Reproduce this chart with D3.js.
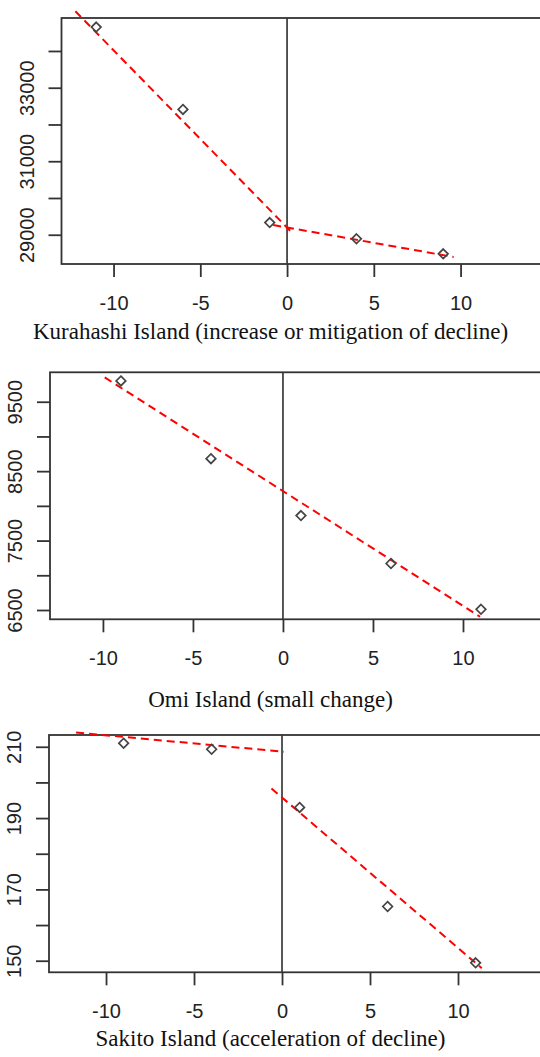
<!DOCTYPE html>
<html><head><meta charset="utf-8">
<script src="https://cdn.jsdelivr.net/npm/d3@7"></script>
<style>body{margin:0;background:#fff;} svg{display:block;}</style>
</head><body>
<svg id="chart" width="540" height="1057"></svg>
<script>
// ---------- data ----------
const xTicks = [-10, -5, 0, 5, 10];

const kurahashiX = [-11, -6, -1, 4, 9];
const kurahashiY = [34650, 32410, 29330, 28890, 28480];
const kurahashiFitX = [[-12.2, 0.3], [-0.8, 9.6]];
const kurahashiFitY = [[35080, 29050], [29265, 28395]];
const kurahashiTicks = [29000, 30000, 31000, 32000, 33000, 34000];
const kurahashiLabels = ["29000", "", "31000", "", "33000", ""];
const kurahashiTitle = "Kurahashi Island (increase or mitigation of decline)";

const omiX = [-9, -4, 1, 6, 11];
const omiY = [9800, 8680, 7860, 7170, 6510];
const omiFitX = [[-9.9, 10.95]];
const omiFitY = [[9850, 6403]];
const omiTicks = [6500, 7000, 7500, 8000, 8500, 9000, 9500];
const omiLabels = ["6500", "", "7500", "", "8500", "", "9500"];
const omiTitle = "Omi Island (small change)";

const sakitoX = [-9, -4, 1, 6, 11];
const sakitoY = [211, 209.3, 193, 165.2, 149.4];
const sakitoFitX = [[-11.7, 0.1], [-0.6, 11.35]];
const sakitoFitY = [[214.0, 208.6], [198.3, 147.9]];
const sakitoTicks = [150, 160, 170, 180, 190, 200, 210];
const sakitoLabels = ["150", "", "170", "", "190", "", "210"];
const sakitoTitle = "Sakito Island (acceleration of decline)";

// ---------- layout ----------
const panels = [
  {xs: kurahashiX, ys: kurahashiY, fx: kurahashiFitX, fy: kurahashiFitY, yt: kurahashiTicks, yl: kurahashiLabels, title: kurahashiTitle,
   left: 61.5, right: 556, top: 18, bottom: 264, xd: [-13, 15.5], yd: [28204, 34897], titleY: 339},
  {xs: omiX, ys: omiY, fx: omiFitX, fy: omiFitY, yt: omiTicks, yl: omiLabels, title: omiTitle,
   left: 50, right: 553, top: 372.3, bottom: 619.3, xd: [-12.94, 15], yd: [6366, 9924], titleY: 707},
  {xs: sakitoX, ys: sakitoY, fx: sakitoFitX, fy: sakitoFitY, yt: sakitoTicks, yl: sakitoLabels, title: sakitoTitle,
   left: 49, right: 546, top: 735, bottom: 972.3, xd: [-13.24, 15], yd: [146.75, 213.3], titleY: 1045.5}
];

const svg = d3.select("#chart");
const axisColor = "#333";
const tickFont = "'Liberation Sans', Arial, sans-serif";
const titleFont = "'Liberation Serif', 'Times New Roman', serif";

panels.forEach(p => {
  const x = d3.scaleLinear().domain(p.xd).range([p.left, p.right]);
  const y = d3.scaleLinear().domain(p.yd).range([p.bottom, p.top]);
  const g = svg.append("g");

  // box
  g.append("rect")
    .attr("x", p.left).attr("y", p.top)
    .attr("width", p.right - p.left).attr("height", p.bottom - p.top)
    .attr("fill", "none").attr("stroke", axisColor).attr("stroke-width", 1.8);

  // vertical zero line
  g.append("line")
    .attr("x1", x(0)).attr("x2", x(0)).attr("y1", p.top).attr("y2", p.bottom)
    .attr("stroke", "#3a3a3a").attr("stroke-width", 1.7);

  // x axis
  const xa = g.append("g").attr("transform", `translate(0,${p.bottom})`)
    .call(d3.axisBottom(x).tickValues(xTicks).tickSize(13).tickFormat(d3.format("d")));
  xa.select(".domain").remove();
  xa.selectAll(".tick line").attr("stroke", axisColor).attr("stroke-width", 1.8);
  xa.selectAll(".tick text").attr("y", 46).attr("dy", 0)
    .attr("font-family", tickFont).attr("font-size", 20).attr("fill", "#222")
    .text(d => d < 0 ? "-" + Math.abs(d) : d);

  // y axis
  const ya = g.append("g").attr("transform", `translate(${p.left},0)`)
    .call(d3.axisLeft(y).tickValues(p.yt).tickSize(13).tickFormat((d, i) => p.yl[i]));
  ya.select(".domain").remove();
  ya.selectAll(".tick line").attr("stroke", axisColor).attr("stroke-width", 1.8);
  ya.selectAll(".tick text").attr("x", 0).attr("y", 0).attr("dy", 0)
    .attr("transform", "translate(-28,0) rotate(-90)")
    .attr("text-anchor", "middle")
    .attr("font-family", tickFont).attr("font-size", 20).attr("fill", "#222");

  // fitted dashed lines
  p.fx.forEach((seg, i) => {
    g.append("line")
      .attr("x1", x(seg[0])).attr("x2", x(seg[1]))
      .attr("y1", y(p.fy[i][0])).attr("y2", y(p.fy[i][1]))
      .attr("stroke", "#ff0000").attr("stroke-width", 2)
      .attr("stroke-dasharray", "8,5");
  });

  // points (diamonds, R pch=5)
  const r = 4.8;
  g.selectAll("path.pt").data(p.xs.map((v, i) => [v, p.ys[i]])).enter()
    .append("path").attr("class", "pt")
    .attr("d", d => {
      const cx = x(d[0]), cy = y(d[1]);
      return `M${cx},${cy - r}L${cx + r},${cy}L${cx},${cy + r}L${cx - r},${cy}Z`;
    })
    .attr("fill", "none").attr("stroke", "#444").attr("stroke-width", 1.7);

  // title
  svg.append("text")
    .attr("x", 270.5).attr("y", p.titleY)
    .attr("text-anchor", "middle")
    .attr("font-family", titleFont).attr("font-size", 23).attr("fill", "#111")
    .text(p.title);
});
</script>
</body></html>
